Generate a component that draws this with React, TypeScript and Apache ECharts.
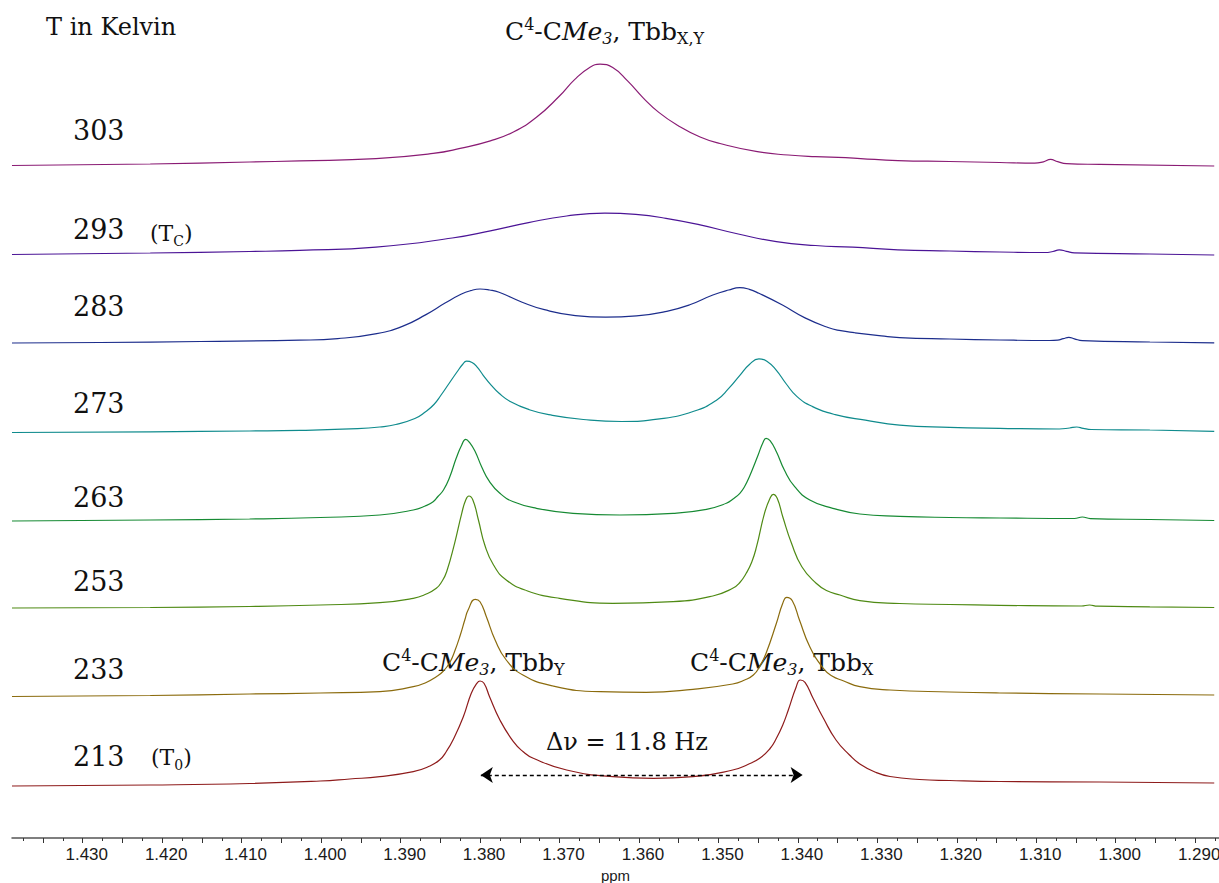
import React, { useEffect, useRef } from 'react';
import * as echarts from 'echarts';

type Pt = [number, number];

// ---------------- data ----------------
const temperatures = ['303', '293', '283', '273', '263', '253', '233', '213'];
// vertical stacking offset of every spectrum (intensity units)
const traceOffsets = [673, 583.5, 495, 405.5, 317, 230, 141.5, 52];
const traceColors = ['#8a1b74', '#4b1496', '#1c2d8c', '#0f8b8d', '#168a33', '#4f8a14', '#8b6b0d', '#8e1b1b'];

// [ppm, intensity]
const spec303: Pt[] = [
  [1.4389, -0.5], [1.4215, 1], [1.409, 3], [1.4027, 4.1], [1.3931, 6.4], [1.3859, 11.6], [1.3825, 16.6],
  [1.3787, 24.1], [1.3758, 33], [1.3729, 47.7], [1.37, 69], [1.3681, 85.4], [1.3662, 97.5], [1.3649, 100.8],
  [1.3633, 97.5], [1.3614, 83.8], [1.3595, 67.4], [1.3575, 52.6], [1.3551, 39.5], [1.3523, 28], [1.3498, 21.5],
  [1.3451, 13.3], [1.3412, 10], [1.3378, 8.4], [1.334, 7.4], [1.3321, 6.4], [1.3274, 4.4], [1.3209, 3.5],
  [1.3146, 2.5], [1.3102, 1.8], [1.3091, 3.2], [1.3082, 5.6], [1.3073, 3.3], [1.3062, 1.3], [1.302, 0.6],
  [1.2876, -1],
];
const spec293: Pt[] = [
  [1.4389, 0], [1.4215, 1.5], [1.409, 3], [1.4027, 4.1], [1.3931, 7.3], [1.3835, 16.5], [1.3787, 23.7],
  [1.3739, 31.9], [1.3691, 38.5], [1.3643, 41.4], [1.3604, 40.1], [1.3566, 36.2], [1.3523, 29.6],
  [1.3475, 20.5], [1.3427, 12.9], [1.3378, 9], [1.3331, 7.3], [1.3274, 4.7], [1.3209, 3.5], [1.3146, 2.5],
  [1.3089, 2], [1.3079, 3], [1.3071, 4.6], [1.3062, 3.2], [1.3052, 1.6], [1.2957, 0.5], [1.2876, -0.5],
];
const spec283: Pt[] = [
  [1.4389, 0], [1.4278, 0.5], [1.4152, 1.5], [1.4027, 2.8], [1.3979, 4.4], [1.393, 9.4], [1.3897, 16.9],
  [1.3868, 28.4], [1.3844, 39.9], [1.3824, 48.7], [1.3812, 52.3], [1.38, 54], [1.3788, 53], [1.3776, 50.7],
  [1.3747, 40.8], [1.3719, 33.3], [1.368, 27.4], [1.3642, 25.8], [1.3603, 27.1], [1.3565, 31.7],
  [1.3536, 38.2], [1.3507, 48], [1.3487, 53], [1.3473, 55.3], [1.3461, 53.6], [1.3449, 49.7], [1.342, 38.2],
  [1.3391, 25.1], [1.3362, 15.5], [1.3346, 12.3], [1.3329, 10.3], [1.3295, 7.1], [1.3272, 5.4], [1.3209, 4],
  [1.3146, 3], [1.3083, 2.5], [1.3073, 2.9], [1.3066, 4.3], [1.3059, 5.6], [1.3052, 4.2], [1.3042, 2.3],
  [1.2957, 1], [1.2876, 0.2],
];
const spec273: Pt[] = [
  [1.4389, 0], [1.4215, 0.7], [1.409, 1.5], [1.4027, 2.1], [1.3954, 3.8], [1.3926, 5.5], [1.3906, 8],
  [1.3882, 14], [1.3869, 20.5], [1.3858, 28], [1.3849, 37.5], [1.3839, 49], [1.3829, 60.5], [1.3822, 68],
  [1.3817, 71.3], [1.381, 70], [1.3803, 64.8], [1.3796, 57.2], [1.3786, 47.4], [1.3776, 39.2], [1.3762, 31],
  [1.3738, 22.8], [1.3709, 17.2], [1.367, 13], [1.3622, 11], [1.3574, 13.6], [1.3531, 21.2], [1.3502, 32.6],
  [1.3487, 44.1], [1.3473, 57.2], [1.3461, 68], [1.3449, 73.6], [1.3439, 71.3], [1.3427, 62.1], [1.3415, 49],
  [1.3401, 35.9], [1.3382, 26.1], [1.3353, 17.9], [1.3315, 12.3], [1.3272, 7.4], [1.3209, 5.2], [1.3146, 4.2],
  [1.3071, 3.5], [1.3058, 4.5], [1.3049, 5.5], [1.3041, 4.2], [1.3031, 3], [1.2957, 2.5], [1.2876, 1.2],
];
const spec263: Pt[] = [
  [1.4389, 0], [1.4215, 1], [1.409, 2], [1.4001, 3.5], [1.3926, 6], [1.3884, 11], [1.3869, 15], [1.3859, 19.3],
  [1.3853, 24.5], [1.3846, 31], [1.3838, 44.3], [1.383, 62.7], [1.3823, 76], [1.3818, 81.7], [1.3813, 78.3],
  [1.3806, 69.3], [1.3798, 54.3], [1.3788, 39.3], [1.3775, 27.7], [1.3758, 19.3], [1.3729, 12.7], [1.3683, 7.7],
  [1.3624, 6], [1.3557, 7.7], [1.3515, 11.7], [1.349, 17.7], [1.3482, 21.8], [1.3473, 27.7], [1.3467, 34.5],
  [1.3461, 44.3], [1.345, 66], [1.3444, 78.3], [1.344, 82.7], [1.3435, 80.3], [1.3427, 69.3], [1.3417, 51],
  [1.3404, 34.3], [1.3385, 21], [1.3356, 12.7], [1.3322, 7], [1.3272, 4.7], [1.3209, 3.5], [1.3146, 3],
  [1.3052, 2.5], [1.3042, 4], [1.3032, 2.4], [1.2957, 1.5], [1.2876, 0.5],
];
const spec253: Pt[] = [
  [1.4389, 0], [1.4215, 0.5], [1.409, 1.5], [1.4001, 3], [1.3926, 5.3], [1.3884, 9.7], [1.3869, 13.5],
  [1.3855, 19.7], [1.3848, 26.5], [1.3842, 36.3], [1.3832, 64.7], [1.3823, 94.7], [1.3818, 108], [1.3814, 112],
  [1.3809, 108], [1.3802, 88], [1.3794, 63], [1.3783, 43], [1.3767, 28], [1.3741, 17.3], [1.37, 9.7],
  [1.3633, 4.7], [1.3557, 6.3], [1.3507, 12], [1.3482, 19.7], [1.3473, 25.5], [1.3465, 34.7], [1.3458, 46],
  [1.3452, 61.3], [1.3442, 94.7], [1.3435, 109.7], [1.3431, 113.7], [1.3426, 109.7], [1.3419, 91.3],
  [1.3408, 64.7], [1.3395, 41.3], [1.3377, 24.7], [1.3364, 17.5], [1.3347, 13], [1.3322, 7.3], [1.3272, 4.5],
  [1.3209, 3.5], [1.3146, 2.7], [1.3043, 2], [1.3033, 3], [1.3023, 1.8], [1.2957, 1.2], [1.2876, 0.5],
];
const spec233: Pt[] = [
  [1.4389, 0], [1.4215, 1], [1.409, 2.5], [1.4001, 3.5], [1.3926, 4.8], [1.3884, 9.8], [1.3869, 13.5],
  [1.3855, 19.8], [1.3846, 25.5], [1.3838, 34], [1.3832, 45], [1.3825, 61], [1.3819, 77], [1.3815, 86.5],
  [1.3806, 97.2], [1.38, 94.8], [1.3792, 79.8], [1.3781, 56.5], [1.3767, 36.5], [1.3746, 21.5], [1.3708, 10.5],
  [1.3649, 4.8], [1.3591, 4.2], [1.3532, 7.2], [1.3482, 12.5], [1.3467, 16.5], [1.3456, 21.5], [1.3448, 30],
  [1.344, 43.2], [1.3427, 73.2], [1.3419, 93.2], [1.3414, 99.2], [1.3407, 95.8], [1.3398, 76.5], [1.3385, 49.8],
  [1.3368, 28.2], [1.3357, 20.5], [1.3343, 15.8], [1.3322, 9.8], [1.3284, 6.5], [1.3209, 4.5], [1.3146, 3.5],
  [1.302, 2.5], [1.2876, 1.5],
];
const spec213: Pt[] = [
  [1.4389, 0], [1.4215, 1], [1.409, 2.5], [1.4001, 5], [1.3964, 7], [1.3926, 9.3], [1.3884, 14.3],
  [1.3866, 19], [1.3851, 26], [1.3842, 35], [1.3834, 46], [1.3821, 69.3], [1.3811, 92.7], [1.3804, 102.7],
  [1.38, 105], [1.3795, 102.7], [1.3788, 89.3], [1.3775, 66], [1.3758, 44.3], [1.3746, 34.5], [1.3733, 27.7],
  [1.3691, 16], [1.3633, 9.3], [1.3582, 7.7], [1.3532, 9.3], [1.3482, 16], [1.3463, 21.5], [1.3448, 27.7],
  [1.3435, 37.5], [1.3427, 47.7], [1.3419, 61], [1.3412, 76], [1.3402, 99.3], [1.3397, 106], [1.3391, 103.7],
  [1.3381, 88], [1.3368, 68], [1.3352, 46], [1.3335, 31], [1.3322, 22], [1.3303, 14], [1.3284, 9.5],
  [1.3247, 6.5], [1.3209, 5.5], [1.3146, 4.5], [1.302, 4], [1.2876, 3],
];
const spectra = [spec303, spec293, spec283, spec273, spec263, spec253, spec233, spec213];

// axis ticks (ppm)
const labelTicks = [1.43, 1.42, 1.41, 1.4, 1.39, 1.38, 1.37, 1.36, 1.35, 1.34, 1.33, 1.32, 1.31, 1.3, 1.29];
const majorTicks = [
  1.435, 1.43, 1.425, 1.42, 1.415, 1.41, 1.405, 1.4, 1.395, 1.39, 1.385, 1.38, 1.375, 1.37, 1.365, 1.36,
  1.355, 1.35, 1.345, 1.34, 1.335, 1.33, 1.325, 1.32, 1.315, 1.31, 1.305, 1.3, 1.295, 1.29,
];
const minorTicks = [
  1.4375, 1.4325, 1.4275, 1.4225, 1.4175, 1.4125, 1.4075, 1.4025, 1.3975, 1.3925, 1.3875, 1.3825, 1.3775,
  1.3725, 1.3675, 1.3625, 1.3575, 1.3525, 1.3475, 1.3425, 1.3375, 1.3325, 1.3275, 1.3225, 1.3175, 1.3125,
  1.3075, 1.3025, 1.2975, 1.2925, 1.2875,
];
const ppmMin = 1.287;
const ppmMax = 1.4389;

// Δν arrow between the two T0 signals
const dnuArrowPpm = [1.3799, 1.3394];
const dnuArrowLevel = 63;

// ---------------- layout ----------------
const SERIF = '"DejaVu Serif", serif';
const SANS = '"Liberation Sans", Arial, sans-serif';
const tempLabelY = [130, 229, 306, 403, 497, 581, 669, 756];

const richStyles = (size: number, sub: number) => ({
  n: { fontSize: size, fontFamily: SERIF, fill: '#111', lineHeight: 30 },
  i: { fontSize: size, fontFamily: SERIF, fontStyle: 'italic', fill: '#111', lineHeight: 30 },
  sup: { fontSize: sub, fontFamily: SERIF, fill: '#111', verticalAlign: 'top', lineHeight: 21 },
  sub: { fontSize: sub, fontFamily: SERIF, fill: '#111', verticalAlign: 'bottom', lineHeight: 12 },
  isub: { fontSize: sub, fontFamily: SERIF, fontStyle: 'italic', fill: '#111', verticalAlign: 'bottom', lineHeight: 12 },
});

const assign = (tag: string) => `{n|C}{sup|4}{n|-C}{i|Me}{isub|3}{n|, Tbb}{sub|${tag}}`;

export default function App() {
  const ref = useRef<HTMLDivElement>(null);
  useEffect(() => {
    if (!ref.current) return;
    const chart = echarts.init(ref.current, undefined, { renderer: 'svg' });

    const series = spectra.map((spec, i) => ({
      type: 'line',
      name: temperatures[i],
      data: spec.map(([p, v]) => [p, v + traceOffsets[i]]),
      showSymbol: false,
      smooth: 0.5,
      lineStyle: { color: traceColors[i], width: 1.2 },
      silent: true,
      ...(i === spectra.length - 1
        ? {
            markLine: {
              silent: true,
              symbol: ['arrow', 'arrow'],
              symbolSize: 12,
              lineStyle: { color: '#000', type: [4, 3], width: 1.3 },
              itemStyle: { color: '#000' },
              label: { show: false },
              data: [[{ coord: [dnuArrowPpm[0], dnuArrowLevel] }, { coord: [dnuArrowPpm[1], dnuArrowLevel] }]],
            },
          }
        : {}),
    }));

    const graphic: any[] = [
      { type: 'text', x: 46, y: 27, style: { text: 'T in Kelvin', fontSize: 24, fontFamily: SERIF, fill: '#111', verticalAlign: 'middle' } },
      ...temperatures.map((t, i) => ({
        type: 'text', x: 73, y: tempLabelY[i],
        style: { text: t, fontSize: 27, fontFamily: SERIF, fill: '#111', verticalAlign: 'middle' },
      })),
      {
        type: 'text', x: 150, y: 233,
        style: { text: '{n|(T}{sub|C}{n|)}', rich: richStyles(22, 14), verticalAlign: 'middle' },
      },
      {
        type: 'text', x: 151, y: 757,
        style: { text: '{n|(T}{sub|0}{n|)}', rich: richStyles(22, 14), verticalAlign: 'middle' },
      },
      { type: 'text', x: 505, y: 31, style: { text: assign('X,Y'), rich: richStyles(25, 16), verticalAlign: 'middle' } },
      { type: 'text', x: 382, y: 662, style: { text: assign('Y'), rich: richStyles(25, 16), verticalAlign: 'middle' } },
      { type: 'text', x: 690, y: 662, style: { text: assign('X'), rich: richStyles(25, 16), verticalAlign: 'middle' } },
      {
        type: 'text', x: 546, y: 742,
        style: { text: 'Δν = 11.8 Hz', fontSize: 24, fontFamily: SERIF, fill: '#111', verticalAlign: 'middle' },
      },
    ];

    chart.setOption({
      animation: false,
      backgroundColor: '#ffffff',
      grid: { left: 12, right: 0, top: 0, bottom: 45, containLabel: false, outerBoundsMode: 'none' },
      xAxis: [
        {
          type: 'value', inverse: true, min: ppmMin, max: ppmMax, position: 'bottom',
          axisLine: { show: true, lineStyle: { color: '#555', width: 1.5 } },
          axisTick: { show: true, length: 5, customValues: majorTicks, lineStyle: { color: '#333', width: 1 } },
          axisLabel: {
            customValues: labelTicks,
            formatter: (v: number) => v.toFixed(3),
            fontSize: 17, fontFamily: SANS, color: '#1a1a1a', margin: 8, padding: [0, 0, 0, 8],
          },
          splitLine: { show: false },
          name: 'ppm', nameLocation: 'middle', nameGap: 28,
          nameTextStyle: { fontSize: 15, fontFamily: SANS, color: '#1a1a1a' },
        },
        {
          type: 'value', inverse: true, min: ppmMin, max: ppmMax, position: 'bottom',
          axisLine: { show: false },
          axisTick: { show: true, length: 3, customValues: minorTicks, lineStyle: { color: '#333', width: 1 } },
          axisLabel: { show: false },
          splitLine: { show: false },
        },
      ],
      yAxis: { type: 'value', min: 0, max: 838, show: false, splitLine: { show: false } },
      series,
      graphic,
    });
    return () => chart.dispose();
  }, []);

  return (
    <div
      ref={ref}
      style={{ position: 'fixed', left: 0, top: 0, width: 1219, height: 883, background: '#fff' }}
    />
  );
}
